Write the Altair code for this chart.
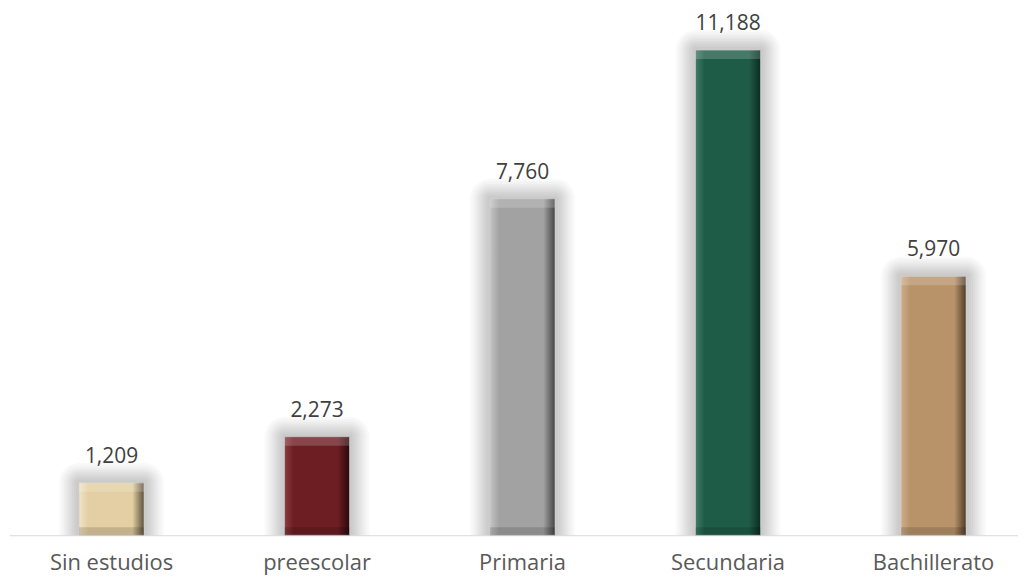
import altair as alt
import pandas as pd

categories = ["Sin estudios", "preescolar", "Primaria", "Secundaria", "Bachillerato"]
values = [1209, 2273, 7760, 11188, 5970]
base_colors = ["#E3CFA3", "#6D1E23", "#A2A2A2", "#1F5C48", "#B8936A"]
light_colors = ["#F0E3C6", "#8A3A40", "#C4C4C4", "#3F7A66", "#CDAE88"]
dark_colors = ["#5E523C", "#2A090C", "#454545", "#0B2C21", "#4E3C28"]

df = pd.DataFrame({"cat": categories, "value": values, "zero": [0] * len(values)})

FONT = "Open Sans"
x_enc = alt.X("cat:N", sort=categories,
              scale=alt.Scale(paddingInner=0.684, paddingOuter=0.297, align=0.574),
              axis=alt.Axis(title=None, labelAngle=0, ticks=False, tickSize=0,
                            domainColor="#D9D9D9", domainWidth=1.2,
                            labelFont=FONT, labelFontSize=22, labelColor="#595959",
                            labelBaseline="alphabetic", labelPadding=34))
y_scale = alt.Scale(domain=[0, 12000], nice=False)
y_enc = alt.Y("value:Q", scale=y_scale, axis=None)

base = alt.Chart(df)

layers = []
for w in [40, 35, 30, 26, 22, 18, 14, 10, 6]:
    layers.append(base.mark_bar(fillOpacity=0, stroke="#000000", strokeOpacity=0.025,
                                strokeWidth=w, strokeJoin="round", clip=True)
                  .encode(x=x_enc, y=y_enc))

for cat, b, l, d in zip(categories, base_colors, light_colors, dark_colors):
    grad = alt.LinearGradient(gradient="linear", x1=0, x2=1, y1=0, y2=0,
                              stops=[alt.GradientStop(color=l, offset=0),
                                     alt.GradientStop(color=b, offset=0.14),
                                     alt.GradientStop(color=b, offset=0.82),
                                     alt.GradientStop(color=d, offset=1)])
    sub = base.transform_filter(alt.datum.cat == cat)
    layers.append(sub.mark_bar(color=grad, stroke="#D0D0D0", strokeWidth=0.6)
                  .encode(x=x_enc, y=y_enc))

layers.append(base.mark_bar(color="#FFFFFF", opacity=0.18, y2Offset=9)
              .encode(x=x_enc, y=y_enc, y2="value:Q"))
layers.append(base.mark_bar(color="#000000", opacity=0.14, yOffset=-8)
              .encode(x=x_enc, y=alt.Y("zero:Q", scale=y_scale, axis=None), y2="zero:Q"))

layers.append(base.mark_text(font=FONT, fontSize=21, color="#404040", baseline="alphabetic", dy=-20)
              .encode(x=x_enc, y=y_enc, text=alt.Text("value:Q", format=",")))

chart = alt.layer(*layers).properties(
    width=1012, height=522,
    autosize=alt.AutoSizeParams(type="none"),
    padding={"left": 1, "top": 6, "right": 0, "bottom": 40},
).configure_view(stroke=None).configure_axis(grid=False)

chart.save("out.html", embed_options={"renderer": "svg", "actions": False})
